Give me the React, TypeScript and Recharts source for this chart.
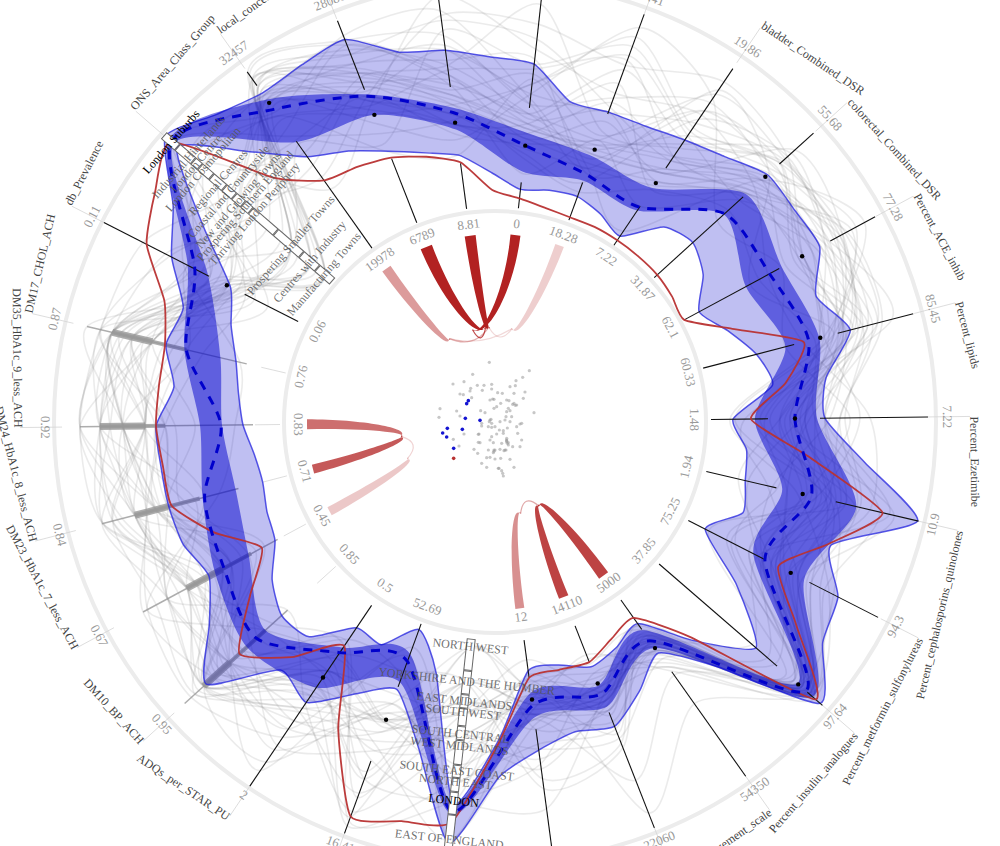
import { RadarChart, Radar, PolarGrid, PolarAngleAxis, PolarRadiusAxis, ScatterChart, Scatter, XAxis, YAxis } from "recharts";

const W = 1000;
const H = 846;
const CX = 495;
const CY = 422;
const TILT = 0.67;
const SCALE_MAX = 480;
const INNER_RING = 211;
const OUTER_RING = 441;

// clockwise from the east-pointing axis
const axisNames = [
  "Percent_Ezetimibe", "Percent_cephalosporins_quinolones", "Percent_metformin_sulfonylureas", "Percent_insulin_analogues",
  "Patient_Engagement_scale", "Patient_Experience_score", "IMD_Score", "NHS_Region", "Income", "ADQs_per_STAR_PU",
  "DM10_BP_ACH", "DM23_HbA1c_7_less_ACH", "DM24_HbA1c_8_less_ACH", "DM35_HbA1c_9_less_ACH", "DM17_CHOL_ACH", "db_Prevalence",
  "ONS_Area_Class_Group", "local_concentration", "list_size", "Percent_Over_65", "Percent_BME", "lung_DSR",
  "bladder_Combined_DSR", "colorectal_Combined_DSR", "Percent_ACE_inhib", "Percent_lipids",
];
const outerTicks = ["7.22", "10.9", "94.3", "97.64", "54350", "22060", "100", "", "16.41", "2", "0.95", "0.67", "0.84", "0.92", "0.87", "0.11", "", "32457", "28081", "71", "96", "13.41", "19.86", "55.68", "77.28", "85.45"];
const innerTicks = ["1.48", "1.94", "75.25", "37.85", "5000", "14110", "12", "", "52.69", "0.5", "0.85", "0.45", "0.71", "0.83", "0.76", "0.06", "", "19978", "6789", "8.81", "0", "18.28", "7.22", "31.87", "62.1", "60.33"];

// band edges read on each axis, and half-way between axes
const lightOuter = [330, 434, 385, 430, 283, 327, 331, 424, 285, 338, 390, 325, 337, 339, 338, 363, 436, 403, 411, 375, 360, 330, 340, 368, 369, 367];
const lightOuterMid = [372, 358, 395, 330, 305, 320, 355, 335, 305, 328, 350, 335, 337, 323, 332, 388, 415, 406, 382, 365, 329, 332, 351, 367, 345, 334];
const lightInner = [238, 257, 236, 345, 247, 263, 251, 385, 221, 248, 288, 250, 240, 252, 266, 297, 420, 325, 291, 269, 234, 240, 224, 267, 232, 270];
const lightInnerMid = [253, 264, 291, 295, 256, 251, 318, 258, 250, 284, 273, 245, 243, 258, 281, 352, 365, 308, 278, 249, 238, 233, 258, 255, 250, 280];
const darkOuter = [322, 371, 347, 420, 277, 306, 298, 395, 277, 320, 335, 318, 302, 295, 319, 345, 431, 395, 352, 317, 291, 283, 282, 339, 326, 335];
const darkInner = [260, 295, 290, 400, 255, 283, 273, 385, 247, 272, 310, 280, 268, 273, 282, 322, 425, 343, 330, 295, 252, 257, 255, 309, 285, 300];
const median = [300, 325, 303, 411, 268, 292, 286, 392, 255, 278, 322, 308, 300, 274, 317, 337, 428, 383, 350, 312, 278, 264, 259, 310, 312, 324];
const practice = [256, 398, 318, 424, 240, 258, 258, 403, 420, 270, 345, 265, 334, 339, 339, 391, 428, 296, 284, 262, 225, 218, 219, 219, 215, 319];
const practiceMid = [315, 355, 363, 290, 246, 256, 321, 410, 345, 311, 300, 302, 335, 338, 352, 410, 330, 290, 274, 232, 220, 219, 219, 217, 255, 293];
const outliers = [300, 316, 332, 401, 277, 281, 280, null, 317, 308, null, null, null, null, null, 301, null, 391, 330, 302, 278, 290, 288, 365, 349, 336];

// [from, to] whiskers per axis
const outerWhisker = [[325, 433], [350, 435], [353, 430], [413, 433], [306, 434], [312, 436], [310, 430], null, [361, 438], [221, 439], null, null, null, null, null, [321, 439], null, [412, 429], [357, 431], [338, 434], [316, 434], [328, 434], [306, 426], [384, 430], [381, 432], [354, 432]];
const innerWhisker = [[216, 273], [217, 289], [217, 304], [217, 373], [218, 254], [219, 258], [220, 258], null, [215, 282], null, null, null, null, null, null, [221, 281], null, [213, 344], [214, 283], [215, 261], [215, 241], [215, 255], [213, 260], [215, 335], [215, 323], [215, 309]];
const discreteThin: Record<number, number[]> = { 10: [280, 419], 11: [247, 400], 12: [265, 406], 13: [242, 415], 14: [255, 419] };
const discreteMid: Record<number, number[]> = { 10: [310, 393], 11: [277, 350], 12: [305, 372], 13: [330, 395], 14: [317, 393] };
const discreteThick: Record<number, number[]> = { 10: [358, 393], 11: [310, 350], 12: [338, 372], 13: [350, 395], 14: [352, 393] };

const onsGroups = ["London Suburbs", "Industrial Hinterlands", "London Centre", "London Cosmopolitan", "Regional Centres", "Coastal and Countryside", "New and Growing Towns", "Prospering Southern England", "Thriving London Periphery", "Prospering Smaller Towns", "Centres with Industry", "Manufacturing Towns"];
const onsLabelAt = [427, 404, 394, 385, 365, 351, 338, 329, 317, 269, 244, 225];
const onsEdges = [438, 420, 399, 390, 375, 358, 345, 333, 323, 290, 256, 235, 215];
const regions = ["NORTH WEST", "YORKSHIRE AND THE HUMBER", "EAST MIDLANDS", "SOUTH WEST", "SOUTH CENTRAL", "WEST MIDLANDS", "SOUTH EAST COAST", "NORTH EAST", "LONDON", "EAST OF ENGLAND"];
const regionLabelAt = [227, 262, 282, 293, 315, 327, 352, 363, 382, 421];
const regionEdges = [218, 250, 274, 288, 306, 320, 345, 358, 372, 395, 440];

// a sample of the practice lines behind the bands
const practiceLines = [
  [345, 372, 350, 418, 262, 305, 270, 227, 372, 318, 372, 300, 345, 372, 393, 310, 225, 410, 400, 360, 310, 285, 300, 345, 400, 400],
  [290, 330, 265, 405, 280, 322, 295, 262, 400, 270, 300, 340, 395, 350, 352, 285, 244, 385, 335, 300, 290, 340, 320, 360, 330, 370],
  [270, 300, 320, 400, 275, 280, 310, 282, 330, 350, 393, 272, 372, 372, 315, 345, 269, 340, 300, 395, 360, 400, 350, 375, 410, 345],
  [320, 395, 370, 420, 255, 260, 258, 293, 290, 300, 358, 350, 310, 395, 393, 370, 317, 420, 375, 320, 265, 245, 280, 315, 300, 330],
  [310, 345, 300, 360, 290, 340, 330, 315, 350, 390, 330, 310, 338, 300, 352, 330, 329, 300, 350, 410, 400, 380, 410, 395, 350, 360],
  [250, 280, 340, 410, 268, 300, 350, 327, 415, 340, 280, 372, 300, 350, 330, 300, 338, 360, 405, 340, 250, 300, 260, 330, 380, 410],
  [355, 320, 285, 395, 300, 270, 265, 352, 270, 262, 345, 320, 405, 415, 405, 395, 351, 395, 320, 285, 330, 420, 390, 300, 325, 300],
  [300, 360, 240, 385, 310, 385, 300, 363, 300, 410, 393, 262, 350, 330, 300, 280, 365, 330, 370, 360, 420, 310, 330, 385, 345, 385],
  [235, 310, 375, 415, 250, 295, 390, 382, 380, 290, 310, 395, 285, 260, 262, 350, 385, 375, 290, 270, 345, 270, 230, 360, 420, 340],
  [375, 385, 330, 370, 283, 255, 280, 420, 250, 370, 365, 340, 370, 385, 393, 340, 394, 285, 340, 430, 375, 350, 370, 350, 310, 318],
  [285, 250, 310, 412, 345, 420, 260, 382, 360, 300, 320, 280, 320, 372, 360, 255, 404, 400, 410, 350, 285, 320, 300, 405, 395, 355],
  [330, 405, 295, 340, 270, 310, 310, 227, 420, 330, 400, 350, 395, 395, 385, 320, 427, 350, 310, 305, 340, 390, 345, 330, 365, 375],
  [260, 340, 355, 400, 262, 350, 370, 262, 265, 280, 393, 300, 338, 340, 317, 290, 269, 410, 385, 380, 320, 270, 400, 370, 290, 350],
  [315, 290, 270, 422, 300, 290, 240, 293, 395, 350, 358, 372, 360, 350, 405, 365, 317, 315, 360, 300, 300, 360, 280, 340, 375, 395],
  [300, 335, 310, 405, 270, 290, 285, 262, 317, 300, 393, 350, 372, 350, 393, 300, 225, 425, 405, 350, 300, 290, 345, 385, 392, 372],
  [330, 355, 340, 415, 275, 300, 295, 282, 317, 320, 358, 372, 338, 330, 372, 292, 244, 420, 395, 375, 330, 330, 360, 390, 385, 380],
  [285, 315, 300, 400, 260, 280, 262, 293, 317, 345, 393, 310, 350, 372, 352, 295, 269, 415, 380, 335, 350, 305, 375, 378, 395, 365],
  [345, 340, 285, 395, 265, 310, 278, 315, 320, 285, 375, 330, 405, 395, 372, 288, 225, 428, 410, 390, 320, 345, 385, 372, 370, 390],
  [310, 300, 325, 412, 290, 285, 300, 327, 310, 360, 340, 350, 372, 415, 393, 305, 244, 418, 365, 345, 310, 375, 340, 388, 388, 358],
  [265, 370, 355, 408, 255, 315, 255, 352, 320, 330, 380, 400, 360, 372, 419, 280, 269, 405, 345, 310, 270, 255, 365, 395, 378, 376],
  [365, 330, 260, 418, 272, 330, 325, 363, 430, 310, 393, 330, 345, 350, 340, 300, 225, 412, 395, 405, 385, 335, 315, 365, 360, 340],
  [295, 410, 345, 390, 295, 270, 345, 382, 425, 265, 350, 288, 325, 320, 372, 275, 317, 395, 375, 330, 295, 300, 395, 392, 398, 395],
  [335, 285, 300, 420, 258, 335, 270, 227, 300, 395, 358, 320, 350, 395, 352, 312, 329, 370, 330, 320, 340, 410, 355, 380, 350, 362],
  [275, 350, 380, 402, 280, 295, 305, 421, 345, 305, 310, 350, 372, 372, 393, 290, 338, 390, 385, 365, 365, 265, 305, 350, 392, 368],
  [320, 325, 315, 410, 248, 345, 360, 262, 380, 320, 393, 372, 406, 350, 360, 300, 351, 345, 350, 290, 280, 295, 335, 400, 375, 335],
  [350, 375, 335, 415, 305, 250, 290, 382, 240, 420, 358, 300, 338, 330, 405, 270, 427, 380, 415, 415, 325, 280, 375, 385, 340, 380],
  [305, 260, 295, 405, 265, 305, 340, 315, 317, 280, 340, 340, 390, 395, 380, 320, 385, 400, 355, 375, 305, 330, 290, 360, 388, 385],
  [240, 345, 365, 418, 285, 275, 275, 293, 325, 300, 405, 310, 350, 415, 393, 345, 404, 375, 340, 355, 355, 385, 320, 340, 405, 350],
  [310, 340, 320, 410, 270, 295, 290, 282, 320, 335, 405, 385, 395, 350, 372, 305, 282, 390, 360, 320, 290, 285, 300, 345, 360, 345],
  [295, 320, 300, 405, 262, 290, 280, 315, 340, 360, 380, 360, 372, 395, 405, 330, 300, 400, 350, 310, 285, 275, 290, 335, 350, 335],
  [320, 350, 340, 415, 275, 300, 300, 345, 300, 345, 393, 372, 350, 372, 393, 290, 260, 410, 370, 330, 300, 295, 315, 355, 370, 355],
  [285, 330, 315, 400, 268, 285, 285, 262, 330, 370, 358, 340, 385, 415, 352, 315, 235, 420, 345, 300, 275, 270, 285, 340, 345, 340],
  [305, 345, 330, 412, 280, 310, 295, 293, 310, 380, 410, 395, 360, 340, 385, 300, 340, 395, 365, 325, 295, 290, 305, 360, 380, 350],
  [330, 360, 310, 395, 272, 300, 275, 327, 350, 325, 370, 350, 405, 385, 372, 280, 270, 405, 375, 340, 310, 300, 320, 370, 375, 360],
];

// correlation ribbons in the middle: axis, strength, where the curve turns
const ribbonAxis = [17, 18, 19, 20, 21, 13, 12, 11, 6, 5, 4];
const ribbonStrength = [0.45, 1, 1, 1, 0.22, 0.65, 0.75, 0.25, 0.5, 0.85, 0.85];
const ribbonWidth = [10, 12, 11, 10, 9, 10, 9, 9, 9, 10, 11];
const ribbonTurn = [-28, -5, -3, -13, 11, -98, -98, -112, 165, 153, 153];
// which ribbons are joined at the turn
const ribbonLinks = [[0, 4], [0, 2], [1, 3], [4, 2], [7, 6], [8, 9]];

// projection of the practices, in plot units
const scatterX = [598, 548, 718, 698, 678, 522, 489, 562, 582, 605, 660, 676, 542, 605, 577, 540, 623, 637, 672, 705, 510, 520, 600, 612, 650, 700, 632, 545, 668, 680, 620, 655, 500, 572, 585, 450, 612, 650, 648, 665, 732, 447, 510, 575, 600, 605, 630, 660, 690, 680, 615, 595, 575, 652, 628, 640, 620, 565, 605, 600, 650, 650, 635, 695, 522, 490, 565, 610, 655, 668, 507, 595, 615, 610, 645, 690, 552, 563, 600, 590, 632, 660, 615, 575, 590, 625, 635, 672, 638, 640, 683, 695, 608, 603, 672, 676, 645, 657, 660, 598, 612, 567, 570, 650, 652, 648, 612, 605, 640, 627, 650, 655, 630, 642];
const scatterY = [427, 463, 452, 472, 482, 485, 492, 496, 496, 493, 500, 497, 505, 507, 511, 513, 518, 520, 520, 516, 522, 524, 540, 538, 540, 535, 550, 533, 553, 555, 560, 565, 573, 572, 578, 566, 565, 575, 590, 590, 578, 592, 588, 610, 600, 610, 605, 605, 612, 620, 620, 620, 618, 624, 630, 640, 642, 643, 650, 660, 655, 665, 670, 660, 642, 658, 667, 668, 675, 680, 678, 690, 690, 698, 690, 680, 688, 700, 712, 713, 715, 718, 717, 730, 742, 745, 752, 742, 760, 768, 640, 610, 537, 598, 550, 556, 600, 542, 572, 605, 690, 642, 668, 660, 670, 690, 694, 622, 632, 745, 662, 668, 688, 692];
const nearbyX = [535, 530, 526, 570, 472, 517, 458, 470, 491];
const nearbyY = [542, 551, 595, 601, 625, 628, 639, 651, 685];
const selectedX = [491];
const selectedY = [715];

const toPoints = (xs: number[], ys: number[]) => xs.map((x, i) => ({ x, y: ys[i] }));

type Row = Record<string, any>;
const rows: Row[] = axisNames.flatMap((axis, i) => {
  const even: Row = {
    axis,
    light: [lightInner[i], lightOuter[i]],
    dark: [darkInner[i], darkOuter[i]],
    median: median[i],
    practice: practice[i],
    outlier: outliers[i],
    outerWhisker: outerWhisker[i],
    innerWhisker: innerWhisker[i],
    stub: [433, 475],
    innerStub: discreteThin[i] ? [215, 240] : null,
    thin: discreteThin[i] ?? null,
    mid: discreteMid[i] ?? null,
    thick: discreteThick[i] ?? null,
  };
  practiceLines.forEach((line, l) => (even[`line${l}`] = line[i]));
  if (ribbonAxis.includes(i)) even.ribbon = 188;
  if (i === 16) {
    onsGroups.forEach((_, c) => {
      even[`catBox${c}`] = [onsEdges[c + 1], onsEdges[c]];
      even[`catLabel${c}`] = onsLabelAt[c];
    });
  }
  if (i === 7) {
    regions.forEach((_, c) => {
      even[`regBox${c}`] = [regionEdges[c], regionEdges[c + 1]];
      even[`regLabel${c}`] = regionLabelAt[c];
    });
  }
  const mid: Row = {
    axis: `mid${i}`,
    light: [lightInnerMid[i], lightOuterMid[i]],
    practice: practiceMid[i],
  };
  return [even, mid];
});

const ok = (p: any) => p?.value != null && Number.isFinite(p?.x) && Number.isFinite(p?.y);
const clockwise = (i: number) => 90 - TILT + (i * 360) / axisNames.length;
const polar = (r: number, deg: number) => ({
  x: CX + r * Math.sin((deg * Math.PI) / 180),
  y: CY - r * Math.cos((deg * Math.PI) / 180),
});

function smoothPath(pts: any[], k = 0.13) {
  const n = pts.length;
  if (n < 2) return "";
  let d = `M${pts[0].x},${pts[0].y}`;
  for (let i = 0; i < n; i++) {
    const p0 = pts[(i - 1 + n) % n];
    const p1 = pts[i];
    const p2 = pts[(i + 1) % n];
    const p3 = pts[(i + 2) % n];
    d += `C${p1.x + (p2.x - p0.x) * k},${p1.y + (p2.y - p0.y) * k} ${p2.x - (p3.x - p1.x) * k},${p2.y - (p3.y - p1.y) * k} ${p2.x},${p2.y}`;
  }
  return d + "Z";
}

const lineShape = (stroke: string, width: number, opacity = 1, dash?: string, k = 0.13) => (props: any) => (
  <path d={smoothPath(props.points.filter(ok), k)} fill="none" stroke={stroke} strokeWidth={width} strokeOpacity={opacity} strokeDasharray={dash} />
);

const bandShape = (fillOpacity: number, stroke?: string, k = 0.1) => (props: any) => {
  const keep = props.points.map((p: any, i: number) => (ok(p) ? i : -1)).filter((i: number) => i >= 0);
  const outer = smoothPath(keep.map((i: number) => props.points[i]), k);
  const inner = smoothPath(keep.map((i: number) => props.baseLinePoints[i]), k);
  return (
    <g>
      <path d={outer + inner} fill="#0000cc" fillOpacity={fillOpacity} fillRule="evenodd" />
      {stroke && <path d={outer + inner} fill="none" stroke={stroke} strokeWidth={1.5} strokeOpacity={0.75} />}
    </g>
  );
};

const spokeShape = (stroke: string, width: number, opacity = 1) => (props: any) => (
  <g>
    {props.points.map((p: any, i: number) =>
      ok(p) ? (
        <line key={i} x1={props.baseLinePoints[i].x} y1={props.baseLinePoints[i].y} x2={p.x} y2={p.y} stroke={stroke} strokeWidth={width} strokeOpacity={opacity} />
      ) : null,
    )}
  </g>
);

const boxShape = (props: any) => (
  <g>
    {props.points.map((p: any, i: number) => {
      if (!ok(p)) return null;
      const b = props.baseLinePoints[i];
      const len = Math.hypot(p.x - b.x, p.y - b.y) || 1;
      const ux = (p.x - b.x) / len;
      const uy = (p.y - b.y) / len;
      return (
        <g key={i}>
          <line x1={b.x} y1={b.y} x2={p.x} y2={p.y} stroke="#666" strokeWidth={9} />
          <line x1={b.x + ux} y1={b.y + uy} x2={p.x - ux} y2={p.y - uy} stroke="#fff" strokeWidth={7} />
        </g>
      );
    })}
  </g>
);

const catLabelShape = (text: string, rotate: number, black: boolean) => (props: any) => (
  <g>
    {props.points.filter(ok).map((p: any, i: number) => (
      <text key={i} x={p.x} y={p.y} transform={`rotate(${rotate} ${p.x} ${p.y})`} textAnchor="middle" dominantBaseline="middle" fontSize={12} fontFamily="Liberation Serif" fill={black ? "#000" : "#555"} fillOpacity={black ? 1 : 0.85}>
        {text}
      </text>
    ))}
  </g>
);

const dotShape = (props: any) => (
  <g>
    {props.points.filter(ok).map((p: any, i: number) => (
      <circle key={i} cx={p.x} cy={p.y} r={2.2} fill="#000" />
    ))}
  </g>
);

// angle of the turn of ribbon i, kept on the same side of the circle as its axis
const turnOf = (i: number) => {
  const deg = clockwise(ribbonAxis[i]);
  const raw = ribbonTurn[i] - TILT;
  return deg - raw > 180 ? raw + 360 : raw - deg > 180 ? raw - 360 : raw;
};

const ribbonShape = (props: any) => (
  <g>
    {ribbonLinks.map(([a, b]) => {
      const from = polar(95, turnOf(a));
      const to = polar(95, turnOf(b));
      const bend = polar(76, (turnOf(a) + turnOf(b)) / 2);
      return (
        <path key={`${a}-${b}`} d={`M${from.x},${from.y}Q${bend.x},${bend.y} ${to.x},${to.y}`} fill="none" stroke="#b22222" strokeWidth={1.2} strokeOpacity={Math.min(ribbonStrength[a], ribbonStrength[b]) * 0.8} />
      );
    })}
    {props.points.filter(ok).map((p: any) => {
      const axis = axisNames.indexOf(p.payload.axis);
      const i = ribbonAxis.indexOf(axis);
      const deg = clockwise(axis);
      const turn = turnOf(i);
      const w = ribbonWidth[i];
      const tx = Math.cos((deg * Math.PI) / 180);
      const ty = Math.sin((deg * Math.PI) / 180);
      const c1 = polar(132, deg);
      const c2 = polar(84, turn + (deg - turn) * 0.35);
      const tip = polar(95, turn);
      const off = (q: any, s: number) => `${q.x + tx * s},${q.y + ty * s}`;
      const d = `M${off(p, w / 2)}C${off(c1, w * 0.42)} ${off(c2, 2.2)} ${off(tip, 0.6)}L${off(tip, -0.6)}C${off(c2, -2.2)} ${off(c1, -w * 0.42)} ${off(p, -w / 2)}Z`;
      return <path key={axis} d={d} fill="#b22222" fillOpacity={ribbonStrength[i]} />;
    })}
  </g>
);

function AxisTick(props: any) {
  const i = axisNames.indexOf(props.payload.value);
  if (i < 0) return <g />;
  const deg = clockwise(i);
  const lower = deg > 90 && deg < 270;
  const rot = lower ? deg + 180 : deg;
  const name = polar(478, deg);
  const outer = polar(451, deg);
  const inner = polar(198, deg);
  const tickStyle = { fontSize: 13, fontFamily: "Liberation Serif", fill: "#999" };
  return (
    <g>
      <text x={name.x} y={name.y} transform={`rotate(${rot} ${name.x} ${name.y})`} textAnchor={lower ? "end" : "start"} dominantBaseline="middle" fontSize={12} fontFamily="Liberation Serif" fill="#444">
        {axisNames[i]}
      </text>
      <text x={outer.x} y={outer.y} transform={`rotate(${rot} ${outer.x} ${outer.y})`} textAnchor="middle" dominantBaseline="middle" {...tickStyle}>
        {outerTicks[i]}
      </text>
      <text x={inner.x} y={inner.y} transform={`rotate(${rot} ${inner.x} ${inner.y})`} textAnchor="middle" dominantBaseline="middle" {...tickStyle}>
        {innerTicks[i]}
      </text>
    </g>
  );
}

const radar = (key: string, shape: any) => <Radar key={key} dataKey={key} shape={shape} isAnimationActive={false} />;

const dotOf = (fill: string, r = 1.7, opacity = 1) => (props: any) => <circle cx={props.cx} cy={props.cy} r={r} fill={fill} fillOpacity={opacity} />;

export default function App() {
  return (
    <div style={{ position: "absolute", left: 0, top: 0, width: W, height: H, overflow: "hidden", background: "#fff" }}>
      <div style={{ position: "absolute", left: 0, top: 0 }}>
        <RadarChart width={W} height={H} data={rows} cx={CX} cy={CY} outerRadius={SCALE_MAX} startAngle={TILT} endAngle={TILT - 360} margin={{ top: 0, right: 0, bottom: 0, left: 0 }}>
          <PolarGrid gridType="circle" radialLines={false} polarRadius={[INNER_RING, OUTER_RING]} polarAngles={[]} stroke="#ececec" strokeWidth={4} />
          <PolarRadiusAxis domain={[0, SCALE_MAX]} tick={false} axisLine={false} />
          <PolarAngleAxis dataKey="axis" tick={AxisTick} axisLine={false} tickLine={false} />
          {radar("stub", spokeShape("#d4d4d4", 0.8))}
          {radar("innerStub", spokeShape("#d4d4d4", 0.8))}
          {practiceLines.map((_, l) => radar(`line${l}`, lineShape("#808080", 1.6, 0.16)))}
          {radar("thin", spokeShape("#999999", 1.5, 0.8))}
          {radar("mid", spokeShape("#999999", 4, 0.8))}
          {radar("thick", spokeShape("#999999", 7, 0.8))}
          {radar("light", bandShape(0.25, "#2222dd"))}
          {radar("dark", bandShape(0.5, undefined, 0.13))}
          {radar("outerWhisker", spokeShape("#111111", 1.1))}
          {radar("innerWhisker", spokeShape("#111111", 1.1))}
          {radar("practice", lineShape("#b83232", 1.8, 0.95, undefined, 0.09))}
          {radar("median", lineShape("#0000cc", 3, 1, "9 8"))}
          {radar("outlier", dotShape)}
          {onsGroups.map((_, c) => radar(`catBox${c}`, boxShape))}
          {regions.map((_, c) => radar(`regBox${c}`, boxShape))}
          {onsGroups.map((g, c) => radar(`catLabel${c}`, catLabelShape(g, clockwise(16), g === "London Suburbs")))}
          {regions.map((g, c) => radar(`regLabel${c}`, catLabelShape(g, clockwise(7) + 180, g === "LONDON")))}
          {radar("ribbon", ribbonShape)}
        </RadarChart>
      </div>
      <div style={{ position: "absolute", left: 0, top: 0, pointerEvents: "none" }}>
        <ScatterChart width={W} height={H} margin={{ top: 0, right: 0, bottom: 0, left: 0 }}>
          <XAxis type="number" dataKey="x" domain={[-870, 2130]} hide />
          <YAxis type="number" dataKey="y" domain={[-660, 1878]} reversed hide />
          <Scatter data={toPoints(scatterX, scatterY)} shape={dotOf("#999999", 1.6, 0.55)} isAnimationActive={false} />
          <Scatter data={toPoints(nearbyX, nearbyY)} shape={dotOf("#1414d2", 1.8)} isAnimationActive={false} />
          <Scatter data={toPoints(selectedX, selectedY)} shape={dotOf("#b83232", 1.8)} isAnimationActive={false} />
        </ScatterChart>
      </div>
    </div>
  );
}
